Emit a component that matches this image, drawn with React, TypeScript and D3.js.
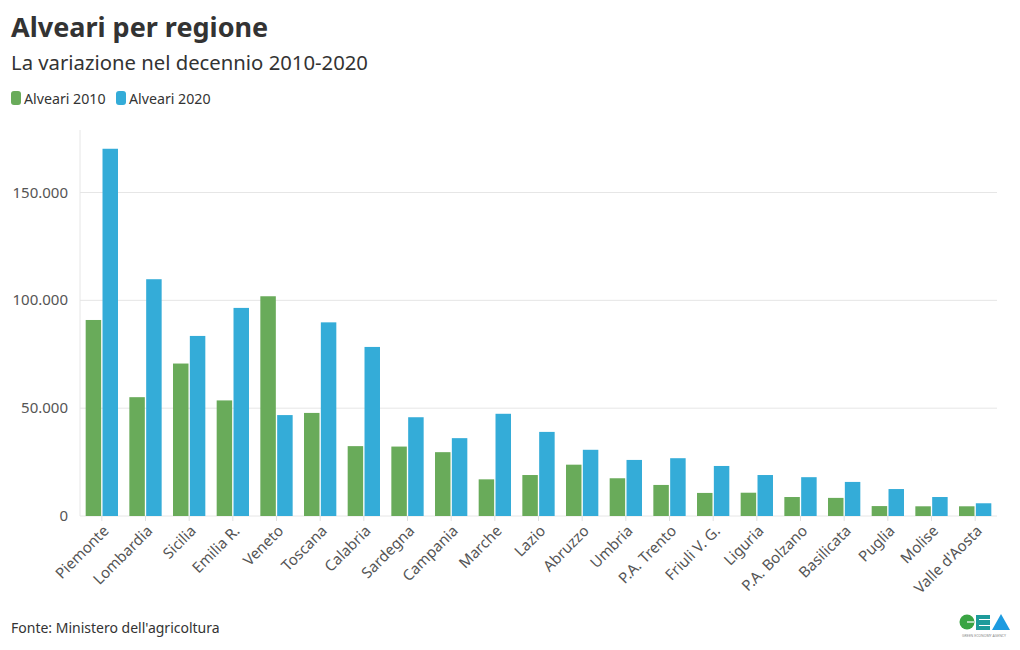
import React from "react";
import * as d3 from "d3";

const regions = ["Piemonte","Lombardia","Sicilia","Emilia R.","Veneto","Toscana","Calabria","Sardegna","Campania","Marche","Lazio","Abruzzo","Umbria","P.A. Trento","Friuli V. G.","Liguria","P.A. Bolzano","Basilicata","Puglia","Molise","Valle d'Aosta"];
const alveari2010 = [90900,55100,70700,53600,101900,47800,32400,32200,29600,17000,19000,23800,17500,14400,10700,10800,8800,8400,4600,4500,4500];
const alveari2020 = [170300,109800,83500,96500,46800,89800,78400,45800,36100,47400,39000,30700,26000,26800,23200,19000,18000,15800,12500,8800,5900];
const seriesNames = ["Alveari 2010","Alveari 2020"];
const yTicks = [0,50000,100000,150000];

const colors = ["#69ab5a","#34acd8"];
const font = "'Noto Sans', 'Open Sans', sans-serif";

export default function App() {
  const W = 1020, H = 650;
  const left = 80, right = 997, top = 130, bottom = 516;
  const x = d3.scaleBand<string>().domain(regions).range([left, right]).paddingInner(0.26).paddingOuter(0.13);
  const xs = d3.scaleBand<string>().domain(seriesNames).range([0, x.bandwidth()]).paddingInner(0.08);
  const y = d3.scaleLinear().domain([0, 179000]).range([bottom, top]);
  const fmt = (v: number) => d3.format(",")(v).replace(/,/g, ".");
  const series = [alveari2010, alveari2020];

  return (
    <svg width={W} height={H} style={{ position: "absolute", left: 0, top: 0, background: "#fff" }} fontFamily={font}>
      <text x={11} y={37} fontSize={27} fontWeight={700} fill="#333">Alveari per regione</text>
      <text x={11} y={70} fontSize={20.3} fill="#333">La variazione nel decennio 2010-2020</text>
      {seriesNames.map((s, i) => {
        const lx = i === 0 ? 11 : 116;
        return (
          <g key={s}>
            <rect x={lx} y={91} width={10} height={14} rx={3} fill={colors[i]} />
            <text x={lx + 13} y={103.5} fontSize={14.2} fill="#333">{s}</text>
          </g>
        );
      })}
      {yTicks.map(t => (
        <g key={t}>
          <line x1={left} x2={right} y1={y(t)} y2={y(t)} stroke="#e6e6e6" strokeWidth={1} />
          <text x={68} y={y(t) + 5} fontSize={15} fill="#555" textAnchor="end">{fmt(t)}</text>
        </g>
      ))}
      <line x1={left} x2={left} y1={top} y2={bottom} stroke="#e6e6e6" strokeWidth={1} />
      {regions.map((r, i) => {
        const cx = (x(r) as number) + x.bandwidth() / 2;
        return (
          <g key={r}>
            {series.map((vals, j) => (
              <rect key={j} x={(x(r) as number) + (xs(seriesNames[j]) as number)} y={y(vals[i])} width={xs.bandwidth()} height={bottom - y(vals[i])} fill={colors[j]} />
            ))}
            <line x1={cx} x2={cx} y1={bottom} y2={bottom + 5} stroke="#e0e0e0" />
            <text transform={`translate(${cx + 5},${bottom + 13}) rotate(-45)`} fontSize={15} fill="#555" textAnchor="end" dominantBaseline="middle">{r}</text>
          </g>
        );
      })}
      <text x={11} y={633} fontSize={14} fill="#333">Fonte: Ministero dell'agricoltura</text>
      <g>
        <circle cx={967} cy={622} r={7.5} fill="#3aa443" />
        <path d="M 967 622 L 974 622" stroke="#fff" strokeWidth={1.2} />
        <rect x={976} y={615} width={14} height={15} fill="#1e9b9b" />
        <path d="M 979 619.5 L 990 619.5 M 979 625.5 L 990 625.5" stroke="#fff" strokeWidth={1} />
        <path d="M 992 630 L 1001 614 L 1010 630 Z" fill="#1d9be0" />
        <text x={984} y={637} fontSize={3.5} fill="#888" textAnchor="middle">GREEN ECONOMY AGENCY</text>
      </g>
    </svg>
  );
}
